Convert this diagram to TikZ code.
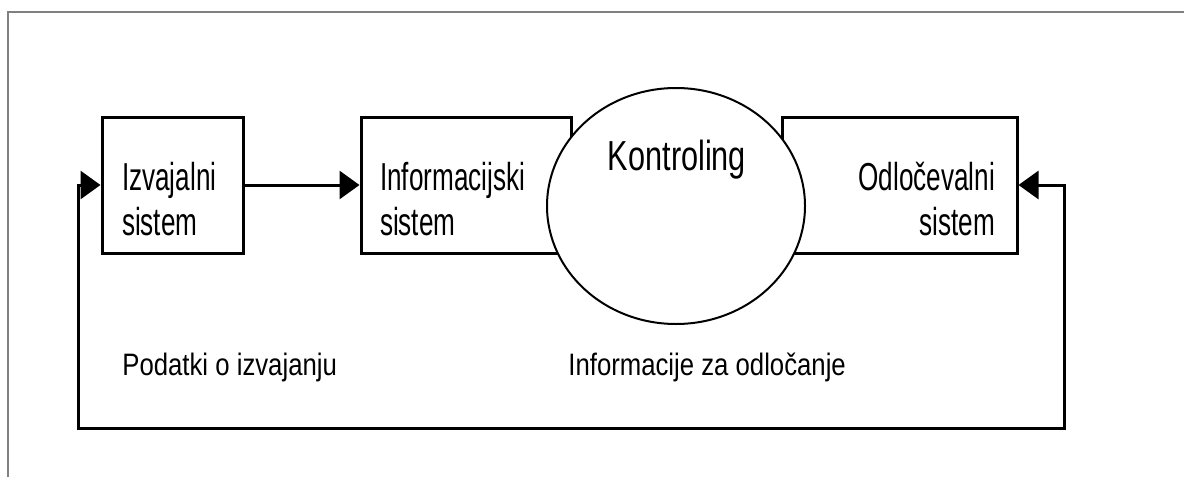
\documentclass[tikz,border=0pt]{standalone}
\usepackage{fontspec}
\setmainfont{Liberation Sans}
\newfontfamily\boxfont[FakeStretch=0.67]{Liberation Sans}
\newfontfamily\ctrlfont[FakeStretch=0.73]{Liberation Sans}
\newfontfamily\notefont[FakeStretch=0.83]{Liberation Sans}
\usetikzlibrary{arrows.meta,shapes.geometric}

\begin{document}
\begin{tikzpicture}[x=0.5pt,y=-0.5pt,
        sysbox/.style={draw, line width=1.5pt, fill=white, minimum height=68pt, inner ysep=0pt, text depth=9pt, font=\boxfont\fontsize{19.5}{22.5}\selectfont},
        flow/.style={line width=1.5pt, -{Triangle[length=10pt,width=14pt]}},
        note/.style={anchor=base west, inner sep=0pt, font=\notefont\fontsize{15.5}{18}\selectfont}]
    \useasboundingbox (0,0) rectangle (1184,477);
    \draw[gray, line width=0.6pt] (8,477) -- (8,12) -- (1184,12);

    % the three systems
    \node[sysbox, inner xsep=10pt, text width=50.5pt, align=left] (izv) at (172.5,185) {Izvajalni\\sistem};
    \node[sysbox, inner xsep=9.5pt, text width=86pt, align=left] (inf) at (466,185) {Informacijski\\sistem};
    \node[sysbox, inner xsep=11pt, text width=95.5pt, align=right] (odl) at (899.5,185) {Odločevalni\\sistem};

    % controlling sits on top of both boxes
    \node[ellipse, draw, line width=1pt, fill=white, minimum width=129pt, minimum height=118pt, inner sep=0pt] (ctrl) at (676,206) {};
    \node[anchor=base, inner sep=0pt, font=\ctrlfont\fontsize{21}{25}\selectfont] (ctrltxt) at (677,170) {Kontroling};

    \draw[flow] (izv) -- (inf);

    % feedback loop
    \coordinate (lowleft) at (78,428);
    \coordinate (lowright) at (1064,428);
    \draw[line width=1.5pt, {Triangle[length=10pt,width=14pt]}-{Triangle[length=10pt,width=14pt]}] (izv.west) -| (lowleft) -- (lowright) |- (odl.east);

    \node[note] (podatki) at (122,375) {Podatki o izvajanju};
    \node[note] (odlocanje) at (568,375) {Informacije za odločanje};
\end{tikzpicture}
\end{document}
